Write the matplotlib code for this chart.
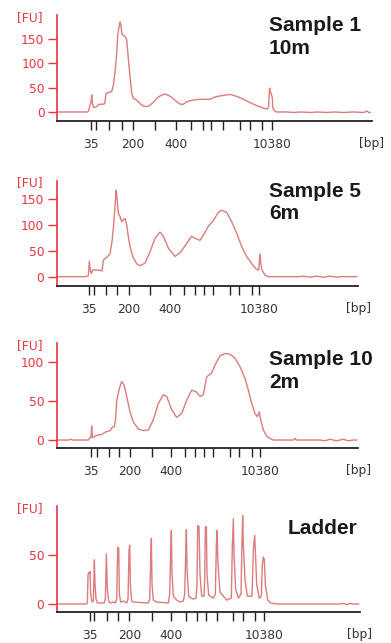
import matplotlib
matplotlib.use("Agg")
import matplotlib.pyplot as plt

# Bioanalyzer traces, x = migration position (arbitrary units), y = FU
t1 = [171, 262, 266, 270, 273, 275, 277, 280, 285, 290, 295, 300, 310, 314, 318, 325, 335, 340, 345,
      350, 353, 357, 360, 363, 365, 368, 375, 380, 385, 390, 395, 400, 405, 410, 415, 422, 430, 440,
      450, 460, 470, 480, 495, 505, 515, 528, 540, 550, 560, 575, 595, 630, 645, 660, 690, 710, 730,
      750, 770, 785, 800, 805, 808, 810, 813, 816, 818, 822, 828, 860, 880, 900, 930, 950, 980, 1000,
      1030, 1060, 1090, 1100, 1105, 1110]
fu1 = [0, 0, 2, 15, 20, 35, 20, 9, 10, 11, 15, 16, 16, 17, 38, 40, 42, 55, 83,
       120, 158, 175, 185, 177, 161, 158, 155, 148, 107, 72, 38, 28, 26, 24, 21, 16, 12, 11,
       14, 20, 28, 33, 37, 34, 30, 22, 16, 16, 21, 24, 26, 26, 31, 33, 36, 32, 26,
       19, 13, 9, 6, 10, 49, 42, 38, 30, 8, 3, 0, 0, -1, 0, -1, 0, -1, 0,
       -1, 0, -1, 2, -1, -1]

t5 = [170, 255, 262, 265, 268, 271, 274, 278, 290, 300, 306, 310, 320, 330, 336, 340, 345, 348, 350,
      355, 360, 365, 370, 375, 380, 385, 390, 400, 410, 420, 435, 450, 465, 480, 490, 505, 525, 540,
      560, 575, 585, 600, 610, 625, 640, 655, 665, 680, 695, 710, 725, 740, 760, 770, 776, 780, 783,
      786, 795, 805, 900, 910, 930, 950, 970, 990, 1010, 1020, 1070]
fu5 = [0, 0, 1, 2, 30, 12, 6, 13, 13, 12, 11, 32, 37, 44, 68, 93, 135, 167, 158,
       122, 116, 106, 110, 112, 100, 77, 58, 36, 25, 21, 26, 48, 74, 86, 78, 55, 39, 46,
       64, 78, 74, 70, 80, 97, 108, 124, 128, 124, 106, 84, 58, 39, 21, 14, 13, 44, 23,
       13, 3, 0, 0, 1, -1, 1, -1, 1, -1, 0, 0]

t10 = [170, 205, 212, 218, 265, 270, 273, 275, 277, 290, 305, 315, 330, 338, 343, 347, 350, 358, 365,
       372, 380, 390, 400, 415, 430, 445, 460, 475, 490, 500, 515, 530, 545, 560, 575, 588, 600, 610,
       620, 635, 645, 660, 675, 690, 705, 720, 735, 745, 755, 765, 772, 778, 782, 790, 800, 810, 820,
       880, 885, 890, 960, 975, 990, 1010, 1030, 1045, 1060, 1070]
fu10 = [0, 0, 1, 0, 0, 3, 4, 18, 3, 6, 7, 10, 12, 17, 17, 28, 50, 66, 75,
        71, 56, 36, 23, 14, 12, 13, 26, 47, 58, 56, 39, 29, 34, 51, 64, 62, 56, 58,
        81, 86, 96, 108, 111, 110, 105, 94, 79, 64, 47, 34, 30, 36, 26, 13, 5, 2, 0,
        0, 2, 0, 0, -1, 1, -1, 1, -1, 0, 0]

t_lad = [170, 258, 262, 264, 266, 268, 270, 272, 276, 280, 283, 285, 288, 292, 312, 316, 319, 322, 326,
         330, 340, 346, 350, 353, 356, 358, 362, 372, 380, 384, 387, 389, 391, 395, 400, 445, 449, 452,
         454, 456, 460, 470, 505, 509, 512, 514, 516, 520, 530, 540, 550, 554, 557, 559, 561, 566, 578,
         588, 591, 593, 597, 600, 605, 612, 614, 616, 619, 621, 626, 640, 646, 649, 651, 654, 660, 680,
         694, 697, 700, 702, 707, 715, 723, 726, 728, 730, 735, 742, 756, 760, 764, 766, 770, 778, 784,
         787, 790, 793, 796, 803, 812, 830, 1020, 1030, 1040, 1050, 1060, 1075]
fu_lad = [0, 0, 1, 30, 32, 31, 33, 10, 2, 3, 45, 20, 5, 1, 1, 5, 51, 15, 3,
          1, 2, 1, 5, 58, 57, 10, 2, 3, 1, 5, 55, 60, 20, 3, 2, 1, 5, 45,
          67, 20, 4, 2, 1, 10, 55, 75, 30, 8, 4, 2, 3, 10, 50, 76, 35, 8, 5,
          6, 20, 80, 79, 30, 8, 8, 25, 78, 79, 30, 9, 6, 10, 60, 75, 40, 12, 4,
          6, 60, 87, 50, 15, 6, 10, 65, 90, 60, 25, 8, 8, 55, 70, 55, 20, 6, 8,
          40, 48, 45, 20, 4, 1, 0, 0, 0.5, -0.5, 0.5, 0, 0]

# ladder marker positions in each run
ticks1 = [273, 288, 328, 366, 399, 464, 527, 572, 610, 632, 667, 718, 748, 786, 816]
ticks5 = [268, 282, 318, 352, 386, 450, 511, 553, 584, 611, 639, 690, 718, 757, 778]
ticks10 = [272, 290, 327, 357, 390, 455, 513, 555, 586, 612, 640, 689, 717, 757, 779]
ticks_lad = [270, 282, 321, 355, 388, 455, 513, 557, 592, 619, 652, 700, 729, 766, 793]
bp_labels = ['35', '200', '400', '10380']
bp_label_idx = [0, 4, 6, 14]

titles = ['Sample 1\n10m', 'Sample 5\n6m', 'Sample 10\n2m', 'Ladder']

W, H = 391, 643
RED = '#e8363c'
TRACE = '#dc7c7c'

fig = plt.figure(figsize=(W / 100, H / 100), dpi=100)


def px_axes(l, r, top, bot):
    return fig.add_axes([l / W, 1 - bot / H, (r - l) / W, (bot - top) / H])


# (left, right, top, bottom) in pixels, xlim, ylim, yticks
panels = [
    ((57, 372, 15, 121), (171, 1115), (-18.5, 199), [0, 50, 100, 150], t1, fu1, ticks1),
    ((56.7, 358.3, 180.7, 286), (170, 1075), (-18, 185), [0, 50, 100, 150], t5, fu5, ticks5),
    ((56.7, 358.3, 343.3, 448.3), (170, 1075), (-10.6, 124), [0, 50, 100], t10, fu10, ticks10),
    ((56.7, 360, 506, 612.3), (170, 1080), (-8.5, 100), [0, 50], t_lad, fu_lad, ticks_lad),
]
title_pos = [(269, 16), (269, 181.7), (269, 350), (288, 519)]

for i, (box, xl, yl, yt, x, y, tk) in enumerate(panels):
    ax = px_axes(*box)
    ax.plot(x, y, color=TRACE, lw=1.0)
    ax.set_xlim(*xl)
    ax.set_ylim(*yl)
    for s in ['top', 'right']:
        ax.spines[s].set_visible(False)
    ax.spines['left'].set_color(RED)
    ax.spines['left'].set_linewidth(1.2)
    ax.spines['bottom'].set_color('#222222')
    ax.spines['bottom'].set_linewidth(1.3)

    ax.set_yticks(yt)
    ax.tick_params(axis='y', colors=RED, labelcolor=RED, length=6.5, width=1.0,
                   pad=2.5, labelsize=8.8)
    ax.xaxis.remove_overlapping_locs = False
    ax.set_xticks(tk)
    ax.set_xticklabels([])
    ax.tick_params(axis='x', which='major', color='#222222', length=6.5, width=1.0)
    ax.set_xticks([tk[j] for j in bp_label_idx], minor=True)
    ax.set_xticklabels(bp_labels, minor=True)
    ax.tick_params(axis='x', which='minor', length=0, pad=12, labelsize=8.8,
                   labelcolor='#333333')

    ax.annotate('[FU]', xy=(0, 1), xycoords='axes fraction', xytext=(-10, -1.5),
                textcoords='offset points', ha='right', va='center', color=RED,
                fontsize=8.8)
    ax.annotate('[bp]', xy=(1, 0), xycoords='axes fraction', xytext=(0, -16),
                textcoords='offset points', ha='center', va='center', color='#333333',
                fontsize=8.8)

    tx, ty = title_pos[i]
    fig.text(tx / W, 1 - ty / H, titles[i], ha='left', va='top', fontsize=15,
             fontweight='bold', family='Liberation Sans', color='#1a1a1a',
             linespacing=1.25)

fig.savefig('out.png', dpi=100)
